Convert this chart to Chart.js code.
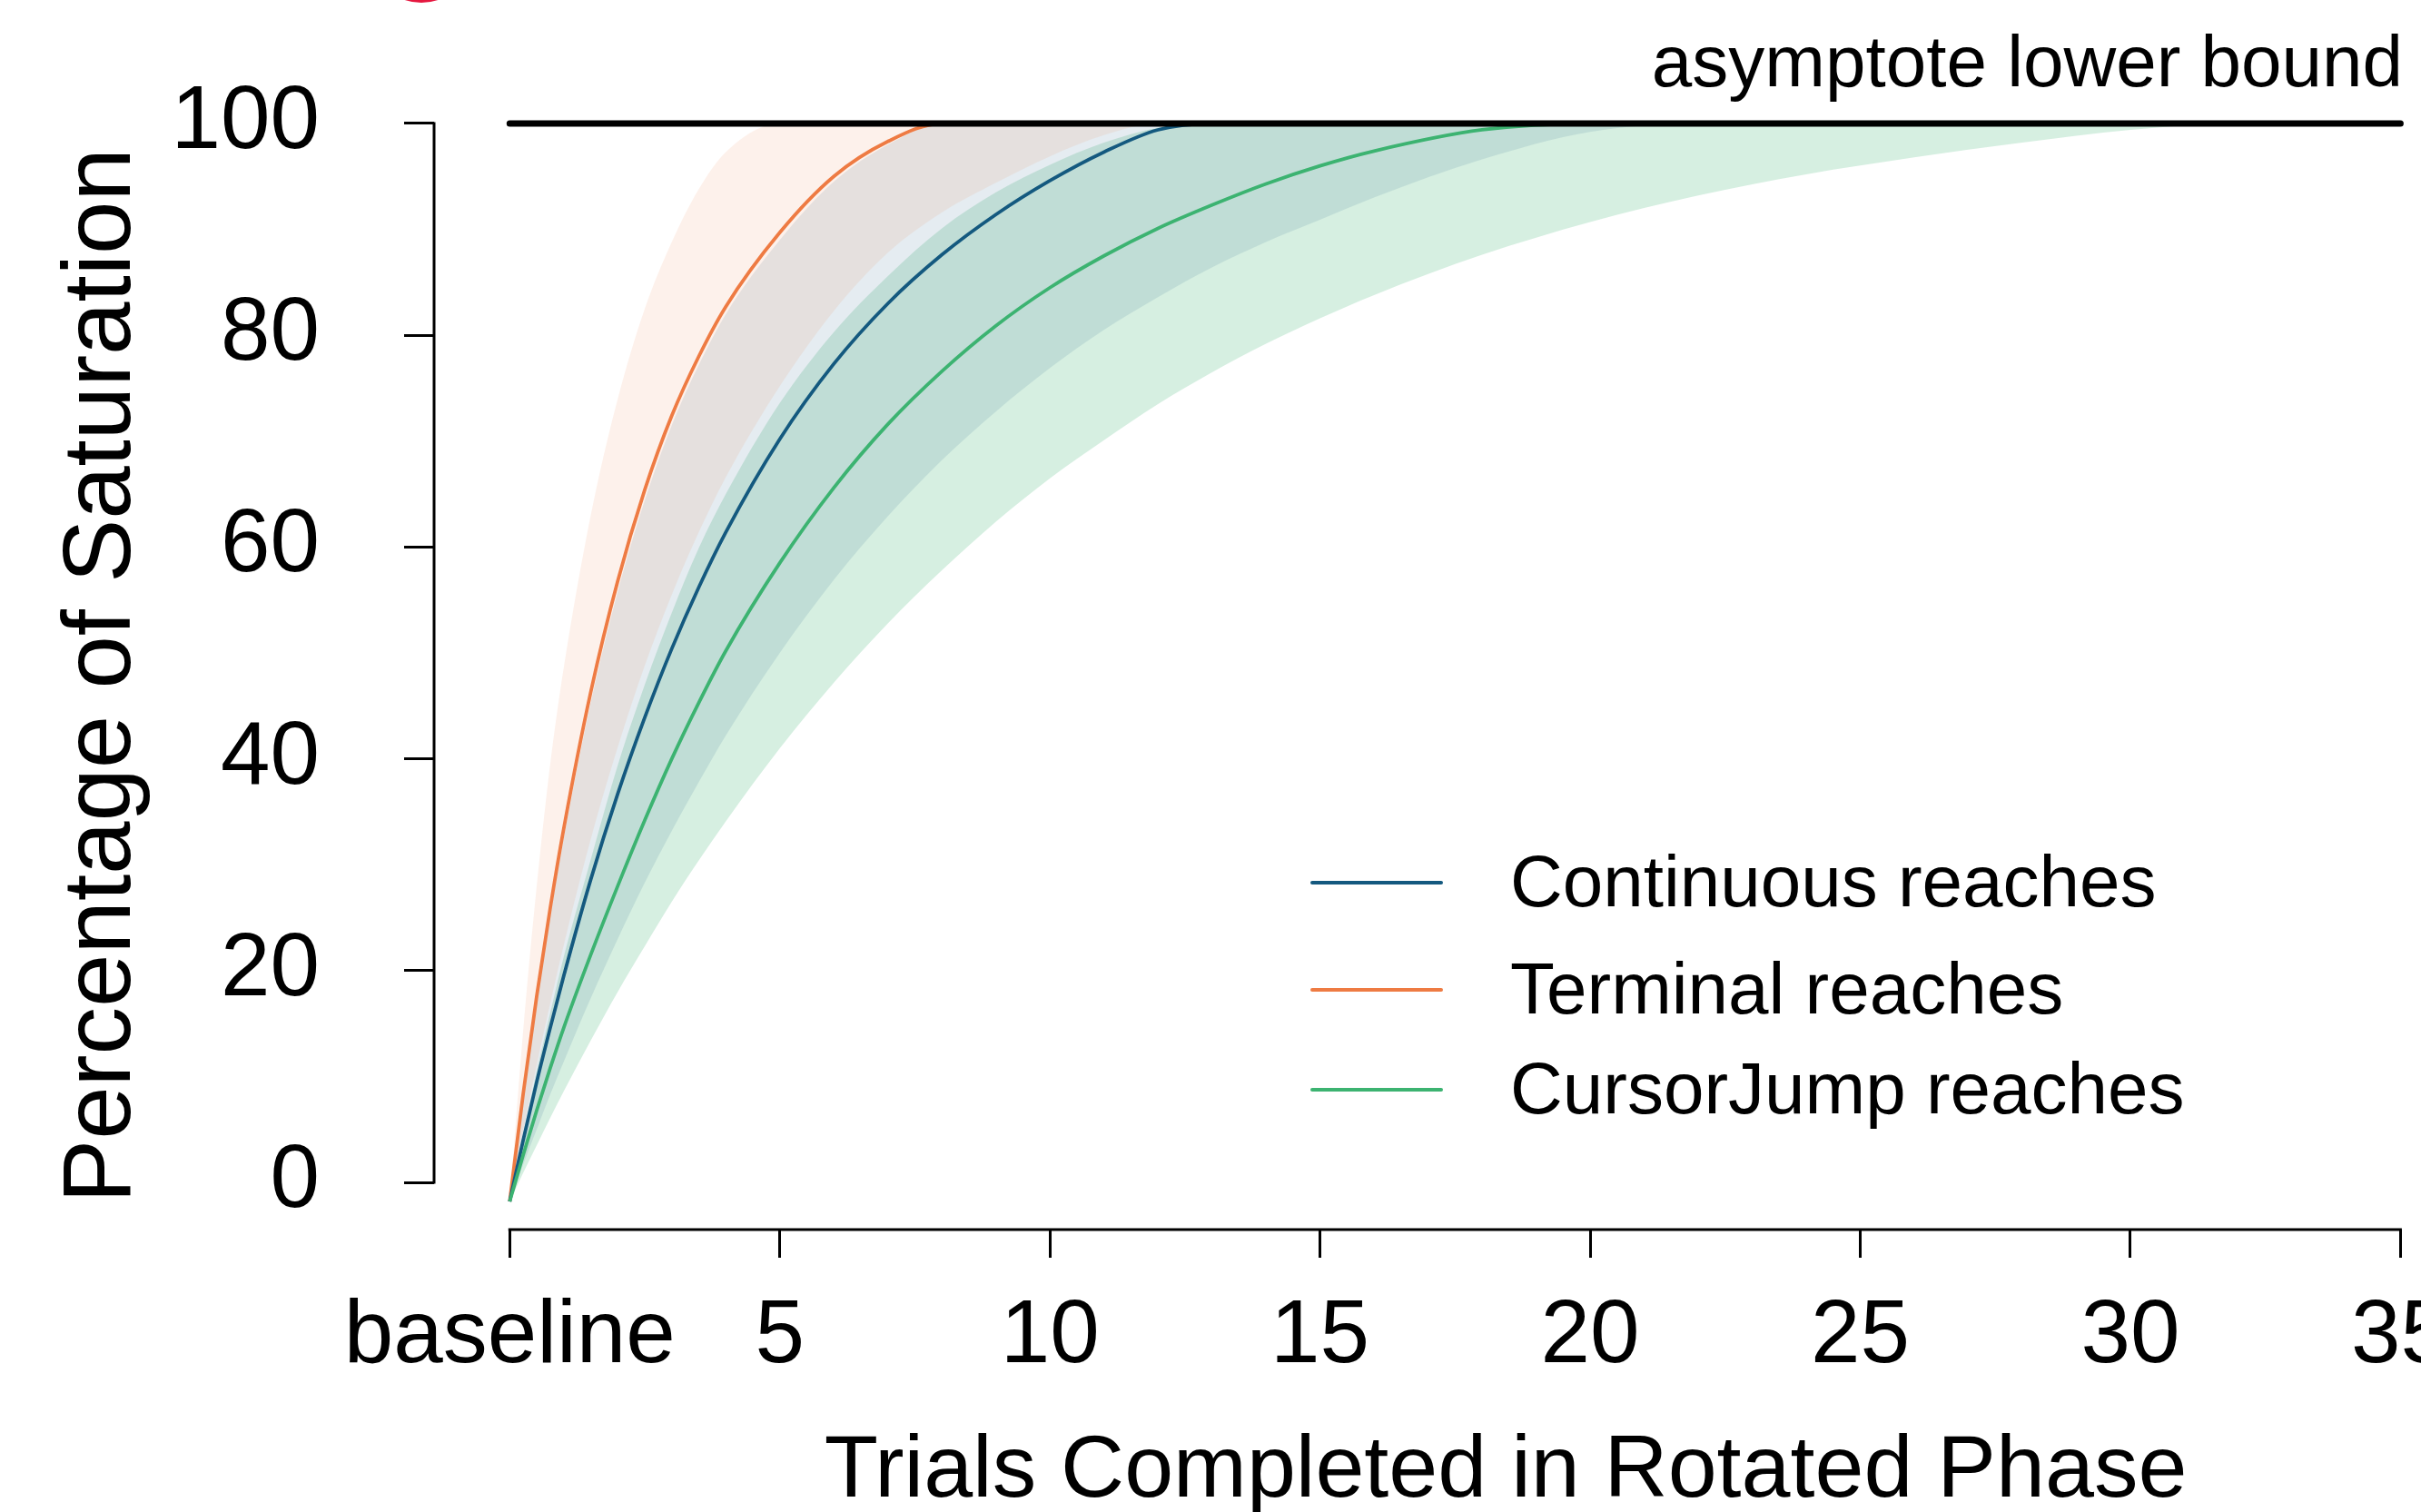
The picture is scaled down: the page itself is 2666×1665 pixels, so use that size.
<!DOCTYPE html>
<html>
<head>
<meta charset="utf-8">
<script src="https://cdn.jsdelivr.net/npm/chart.js@4.4.1/dist/chart.umd.min.js"></script>
<style>
  html, body { margin: 0; padding: 0; background: #fff; }
  #wrap { width: 2666px; height: 1665px; position: relative; }
</style>
</head>
<body>
<div id="wrap"><canvas id="satChart"></canvas></div>
<script>
// trials completed (x) shared by every series
const trials = [0, 0.25, 0.5, 0.75, 1, 1.5, 2, 2.5, 3, 3.5, 4, 5, 6, 7, 8, 9, 10, 11, 12, 13, 14, 15, 16, 18, 20, 22, 24, 26, 28, 30, 32, 35];

// fitted curves, % of saturation (capped at the asymptote)
const continuousFit = [-1.8, 4.0, 9.5, 14.6, 19.5, 28.6, 36.7, 43.9, 50.4, 56.2, 61.4, 70.2, 77.3, 83.0, 87.6, 91.4, 94.6, 97.3, 99.4, 100, 100, 100, 100, 100, 100, 100, 100, 100, 100, 100, 100, 100];
const terminalFit = [-1.8, 8.4, 17.6, 25.9, 33.4, 46.3, 56.8, 65.4, 72.4, 78.0, 82.7, 89.7, 95.0, 98.3, 100, 100, 100, 100, 100, 100, 100, 100, 100, 100, 100, 100, 100, 100, 100, 100, 100, 100];
const cursorJumpFit = [-1.8, 2.6, 6.8, 10.8, 14.6, 21.5, 28.0, 34.2, 40.0, 45.3, 50.2, 58.5, 65.6, 71.6, 76.6, 80.9, 84.5, 87.5, 90.1, 92.3, 94.3, 96.0, 97.4, 99.4, 100, 100, 100, 100, 100, 100, 100, 100];

// confidence bands (upper / lower edge)
const continuousHi = [-1.8, 7.9, 16.9, 25.1, 32.5, 45.3, 55.8, 64.4, 71.5, 77.2, 82.0, 89.0, 94.5, 98.0, 100, 100, 100, 100, 100, 100, 100, 100, 100, 100, 100, 100, 100, 100, 100, 100, 100, 100];
const continuousLo = [-1.8, 1.7, 5.0, 8.3, 11.4, 17.4, 23.0, 28.3, 33.2, 37.8, 42.2, 50.0, 56.9, 62.9, 68.2, 72.8, 76.9, 80.5, 83.6, 86.4, 88.8, 90.9, 93.0, 96.6, 99.2, 100, 100, 100, 100, 100, 100, 100];
const terminalHi = [-1.8, 14.4, 28.0, 39.5, 48.6, 63.0, 74.0, 82.5, 88.8, 93.8, 97.3, 100, 100, 100, 100, 100, 100, 100, 100, 100, 100, 100, 100, 100, 100, 100, 100, 100, 100, 100, 100, 100];
const terminalLo = [-1.8, 4.9, 11.1, 16.9, 22.4, 32.4, 41.1, 48.8, 55.5, 61.4, 66.6, 75.2, 82.3, 87.8, 91.6, 94.4, 96.9, 98.9, 100, 100, 100, 100, 100, 100, 100, 100, 100, 100, 100, 100, 100, 100];
const cursorJumpHi = [-1.8, 4.6, 10.5, 16.0, 21.3, 30.5, 39.4, 47.0, 53.8, 59.9, 65.0, 73.6, 80.3, 85.6, 90.1, 93.5, 96.1, 98.2, 99.6, 100, 100, 100, 100, 100, 100, 100, 100, 100, 100, 100, 100, 100];
const cursorJumpLo = [-1.8, 0.9, 3.5, 6.1, 8.6, 13.4, 18.0, 22.3, 26.5, 30.4, 34.1, 41.0, 47.2, 52.8, 57.8, 62.4, 66.5, 70.1, 73.5, 76.5, 79.2, 81.6, 83.8, 87.6, 90.7, 93.2, 95.2, 96.8, 98.2, 99.4, 100, 100];

const asymptoteX = [0, 35];
const asymptoteY = [100, 100];

const xTicks = [0, 5, 10, 15, 20, 25, 30, 35];
const xTickLabels = ['baseline', '5', '10', '15', '20', '25', '30', '35'];
const yTicks = [0, 20, 40, 60, 80, 100];

const seriesNames = ['Continuous reaches', 'Terminal reaches', 'CursorJump reaches'];
const seriesColors = ['#14597f', '#ee7b43', '#3cb371'];
const bandColors = ['rgba(20,85,125,0.11)', 'rgba(240,120,60,0.10)', 'rgba(60,179,113,0.21)'];

const FONT = "'Liberation Sans', Arial, Helvetica, sans-serif";

function pts(ys) {
    return trials.map((x, i) => ({ x: x, y: ys[i] }));
}

function band(data, color, fill) {
    return {
        data: pts(data),
        borderWidth: 0,
        pointRadius: 0,
        backgroundColor: color,
        fill: fill,
        cubicInterpolationMode: 'monotone',
        order: 10
    };
}

function curve(data, color) {
    return {
        data: pts(data),
        borderColor: color,
        borderWidth: 3.8,
        pointRadius: 0,
        fill: false,
        cubicInterpolationMode: 'monotone',
        order: 2
    };
}

const decorPlugin = {
    id: 'decor',
    afterDraw(chart) {
        const ctx = chart.ctx;
        const xs = chart.scales.x;
        const ys = chart.scales.y;
        const area = chart.chartArea;
        ctx.save();

        // R-style axis lines, only between first and last tick
        ctx.strokeStyle = '#000';
        ctx.lineWidth = 3;
        ctx.lineCap = 'butt';
        ctx.beginPath();
        ctx.moveTo(area.left, ys.getPixelForValue(0) + 1.5);
        ctx.lineTo(area.left, ys.getPixelForValue(100) - 1.5);
        ctx.moveTo(xs.getPixelForValue(0) - 1.5, area.bottom);
        ctx.lineTo(xs.getPixelForValue(35) + 1.5, area.bottom);
        ctx.stroke();

        ctx.fillStyle = '#000';

        // axis titles
        ctx.font = '97px ' + FONT;
        ctx.textAlign = 'center';
        ctx.textBaseline = 'alphabetic';
        ctx.fillText('Trials Completed in Rotated Phase', 1658, 1648);

        ctx.save();
        ctx.translate(143, 744);
        ctx.rotate(-Math.PI / 2);
        ctx.font = '105px ' + FONT;
        ctx.fillText('Percentage of Saturation', 0, 0);
        ctx.restore();

        // asymptote label
        ctx.font = '80px ' + FONT;
        ctx.textAlign = 'right';
        ctx.fillText('asymptote lower bound', 2646, 95);

        // legend
        const legendY = [972, 1090, 1200];
        ctx.textAlign = 'left';
        ctx.textBaseline = 'middle';
        seriesNames.forEach((name, i) => {
            ctx.strokeStyle = seriesColors[i];
            ctx.lineWidth = 4;
            ctx.lineCap = 'round';
            ctx.beginPath();
            ctx.moveTo(1445, legendY[i]);
            ctx.lineTo(1587, legendY[i]);
            ctx.stroke();
            ctx.fillStyle = '#000';
            ctx.fillText(name, 1663, legendY[i] + 4);
        });

        // red fragment peeking in at the top edge
        ctx.fillStyle = '#e5173f';
        ctx.beginPath();
        ctx.ellipse(464, -40, 50, 43, 0, 0, Math.PI * 2);
        ctx.fill();

        ctx.restore();
    }
};

const chart = new Chart(document.getElementById('satChart'), {
    type: 'line',
    data: {
        datasets: [
            {
                data: asymptoteX.map((x, i) => ({ x: x, y: asymptoteY[i] })),
                borderColor: '#000',
                borderWidth: 7,
                borderCapStyle: 'round',
                pointRadius: 0,
                fill: false,
                order: 1
            },
            band(terminalHi, bandColors[1], '+1'),
            band(terminalLo, 'transparent', false),
            band(continuousHi, bandColors[0], '+1'),
            band(continuousLo, 'transparent', false),
            band(cursorJumpHi, bandColors[2], '+1'),
            band(cursorJumpLo, 'transparent', false),
            curve(cursorJumpFit, seriesColors[2]),
            curve(continuousFit, seriesColors[0]),
            curve(terminalFit, seriesColors[1])
        ]
    },
    options: {
        responsive: true,
        maintainAspectRatio: false,
        animation: false,
        events: [],
        layout: { padding: { top: 83.5, left: 0, right: 0, bottom: 0 } },
        plugins: {
            legend: { display: false },
            tooltip: { enabled: false },
            filler: { propagate: false, drawTime: 'beforeDatasetsDraw' }
        },
        scales: {
            x: {
                type: 'linear',
                min: -1.4,
                max: 35.38,
                border: { display: false },
                grid: { drawOnChartArea: false, drawTicks: true, tickLength: 31, tickWidth: 3, tickColor: '#000' },
                afterBuildTicks: s => { s.ticks = xTicks.map(v => ({ value: v })); },
                afterFit: s => { s.height = 311; s.paddingLeft = 0; s.paddingRight = 0; },
                ticks: {
                    autoSkip: false,
                    maxRotation: 0,
                    padding: 29,
                    color: '#000',
                    font: { family: FONT, size: 98 },
                    callback: v => xTickLabels[xTicks.indexOf(v)]
                }
            },
            y: {
                type: 'linear',
                min: -4.45,
                max: 104.5,
                border: { display: false },
                grid: { drawOnChartArea: false, drawTicks: true, tickLength: 33, tickWidth: 3, tickColor: '#000' },
                afterBuildTicks: s => { s.ticks = yTicks.map(v => ({ value: v })); },
                afterFit: s => { s.width = 478; s.paddingTop = 0; s.paddingBottom = 0; },
                ticks: {
                    padding: 93,
                    color: '#000',
                    font: { family: FONT, size: 98 }
                }
            }
        }
    },
    plugins: [decorPlugin]
});
</script>
</body>
</html>
